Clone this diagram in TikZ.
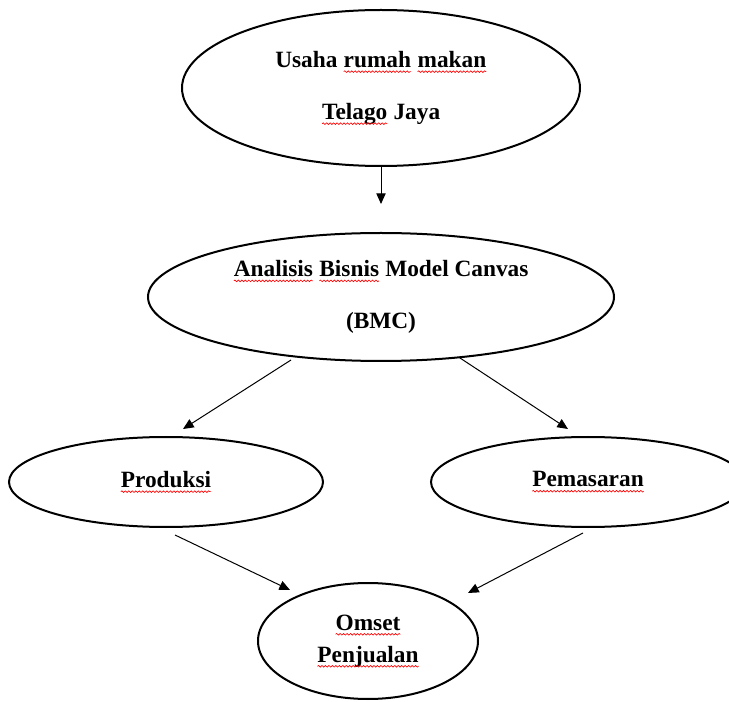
\documentclass[tikz,border=0pt]{standalone}
\usepackage{fontspec}
\setmainfont{Liberation Serif}
\usetikzlibrary{shapes.geometric,arrows.meta,calc,decorations.pathmorphing}

\tikzset{every picture/.style={line width=0.75pt}}
\tikzset{
  oval/.style={draw, ellipse, line width=1.5pt, inner sep=0pt, align=center},
  link/.style={-{Triangle[length=8pt,width=7pt]}, line width=0.75pt},
  squig/.style={draw=red, line width=0.5pt, decorate,
    decoration={snake, amplitude=0.6pt, segment length=2.6pt}},
  word/.style={shape=rectangle, draw=none, minimum width=0pt, minimum height=0pt,
    inner sep=0pt, outer sep=0pt, align=none, font={}}
}
\newcommand{\bigbold}{\fontsize{17.5}{39}\selectfont\bfseries}
\newcommand{\smallbold}{\fontsize{17.5}{24}\selectfont\bfseries}
% red wavy spell-check line under a word
\newcommand{\spell}[1]{\tikz[baseline=(w.base)]{\node[word] (w) {#1};
  \path[squig] ($(w.base west)+(0,-3.2pt)$) -- ($(w.base east)+(0,-3.2pt)$);}}

\begin{document}
\begin{tikzpicture}[x=0.75pt,y=0.75pt,yscale=-1,xscale=1]
\useasboundingbox (0,0) rectangle (729,702);

%Shape: Ellipse [id:usaha]
\node [oval, minimum width=298.5pt, minimum height=117pt, font=\bigbold] (usaha) at (381,88) {Usaha \spell{rumah} \spell{makan}\\\spell{Telago} Jaya};
%Shape: Ellipse [id:bmc]
\node [oval, minimum width=349.5pt, minimum height=96pt, font=\bigbold] (bmc) at (381,297) {\spell{Analisis} \spell{Bisnis} Model Canvas\\(BMC)};
%Shape: Ellipse [id:produksi]
\node [oval, minimum width=235.5pt, minimum height=67.5pt, font=\bigbold] (produksi) at (166,482) {\spell{Produksi}};
%Shape: Ellipse [id:pemasaran]
\node [oval, minimum width=235.5pt, minimum height=67.5pt, font=\bigbold] (pemasaran) at (588,482) {\spell{Pemasaran}};
%Shape: Ellipse [id:omset]
\node [oval, minimum width=165pt, minimum height=87pt, font=\smallbold] (omset) at (368,641) {\spell{Omset}\\\spell{Penjualan}};

%Straight Lines [id:arrows]
\draw [link, shorten >=21pt] (usaha.south) -- (bmc.north);
\draw [link] ($(bmc.center)+(-90,63)$) -- ($(produksi.center)+(17,-53)$);
\draw [link] ($(bmc.center)+(79,61)$) -- ($(pemasaran.center)+(-20,-53)$);
\draw [link] ($(produksi.center)+(9,53)$) -- ($(omset.center)+(-78,-51)$);
\draw [link] ($(pemasaran.center)+(-5,51)$) -- ($(omset.center)+(100,-48)$);

\end{tikzpicture}
\end{document}
